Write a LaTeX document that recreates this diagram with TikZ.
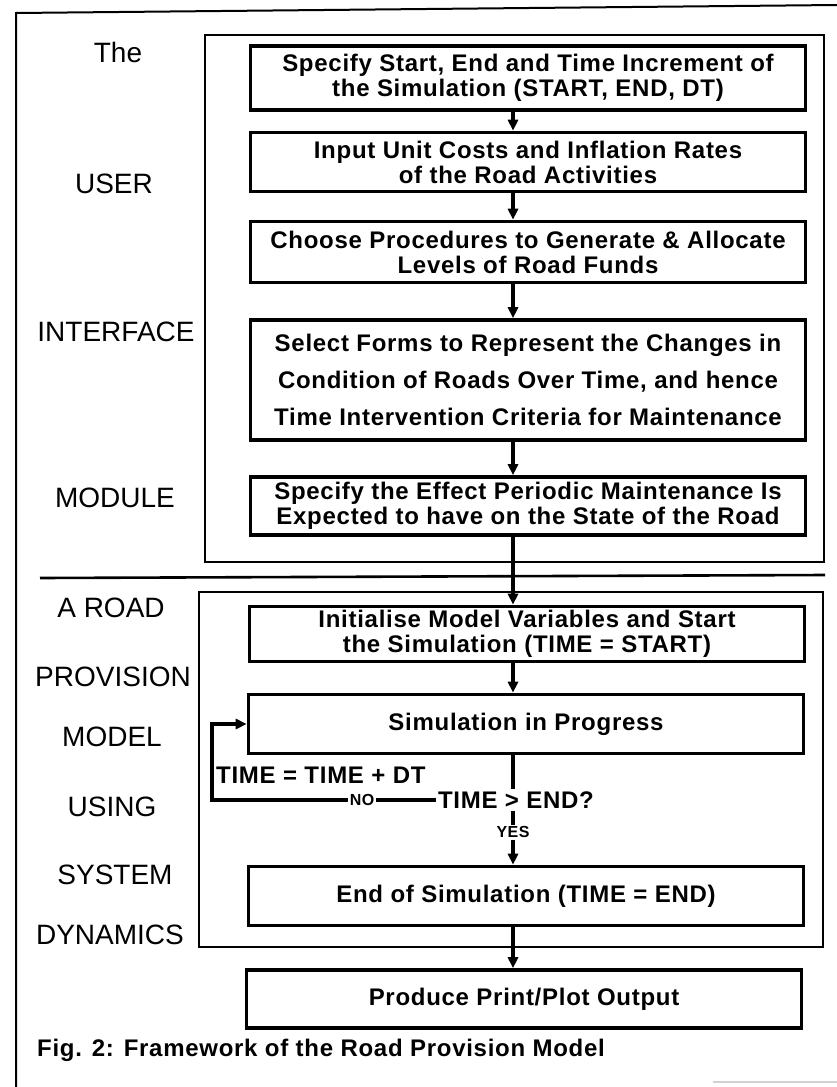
\documentclass[tikz,border=0pt]{standalone}
\usepackage{fontspec}
\setmainfont{Liberation Sans}
\newfontfamily\boxfont[LetterSpace=3]{Liberation Sans}
\usetikzlibrary{arrows.meta,positioning,calc}
\tikzset{
  panel/.style={draw,line width=2.6pt},
  stage/.style={draw,line width=3.6pt,minimum width=555pt,align=center,
    inner sep=0pt,font={\boxfont\bfseries\fontsize{24}{25}\selectfont}},
  side/.style={inner sep=0pt,font={\fontsize{28}{30}\selectfont}},
  tag/.style={fill=white,inner sep=2pt,font={\boxfont\bfseries\fontsize{16}{18}\selectfont}},
  plain/.style={inner sep=2pt,font={\boxfont\bfseries\fontsize{24}{25}\selectfont}}
}
\tikzstyle{arrow} = [line width=3.4pt,-{Triangle[length=11pt,width=10pt]}]

\begin{document}
\begin{tikzpicture}[x=1pt,y=-1pt]
  \useasboundingbox (0,0) rectangle (837,1087);
  \draw[line width=2pt] (16,1087) -- (16,13) -- (837,5);
  \draw[gray!35,line width=2pt] (713,1082) -- (837,1082);
  \draw[panel] (205,35) rectangle (824,562);
  \draw[panel] (40,578) -- (825,575);
  \draw[panel] (199,592) rectangle (823,947);
  \coordinate (spine) at (513,0);

  \node[side] (lThe) at (118,52) {The};
  \node[side] (lUser) at (114,184) {USER};
  \node[side] (lInter) at (116,332) {INTERFACE};
  \node[side] (lModule) at (115,498) {MODULE};
  \node[side] (lRoad) at (111,608) {A ROAD};
  \node[side] (lProv) at (113,677) {PROVISION};
  \node[side] (lModel) at (112,737) {MODEL};
  \node[side] (lUsing) at (112,807) {USING};
  \node[side] (lSystem) at (115,875) {SYSTEM};
  \node[side] (lDyn) at (110,935) {DYNAMICS};

  \node[stage,minimum height=64pt] (start) at (528,78)
    {Specify Start, End and Time Increment of\\the Simulation (START, END, DT)};
  \node[stage,minimum height=59pt] (costs) at (528,162)
    {Input Unit Costs and Inflation Rates\\of the Road Activities};
  \node[stage,minimum height=61pt] (funds) at (528,252)
    {Choose Procedures to Generate \& Allocate\\Levels of Road Funds};
  \node[stage,minimum height=120pt,font={\boxfont\bfseries\fontsize{24}{37}\selectfont}] (forms) at (528,380)
    {Select Forms to Represent the Changes in\\Condition of Roads Over Time, and hence\\Time Intervention Criteria for Maintenance};
  \node[stage,minimum height=58pt] (effect) at (528,506)
    {Specify the Effect Periodic Maintenance Is\\Expected to have on the State of the Road};
  \node[stage,minimum height=55pt] (init) at (527,634)
    {Initialise Model Variables and Start\\the Simulation (TIME = START)};
  \node[stage,minimum height=59pt] (sim) at (526,724) {Simulation in Progress};
  \node[plain] (dec) at (516,800) {TIME > END?};
  \node[plain,anchor=west] (incr) at (214,775) {TIME = TIME + DT};
  \node[stage,minimum height=59pt] (stop) at (526,896) {End of Simulation (TIME = END)};
  \node[stage,minimum height=58pt] (out) at (524,999) {Produce Print/Plot Output};
  \node[plain,anchor=west] (caption) at (35,1050) {Fig. 2: Framework of the Road Provision Model};

  \draw[arrow] (start.south -| spine) -- (costs.north -| spine);
  \draw[arrow] (costs.south -| spine) -- (funds.north -| spine);
  \draw[arrow] (funds.south -| spine) -- (forms.north -| spine);
  \draw[arrow] (forms.south -| spine) -- (effect.north -| spine);
  \draw[arrow] (effect.south -| spine) -- (init.north -| spine);
  \draw[arrow] (init.south -| spine) -- (sim.north -| spine);
  \draw[line width=3.4pt] (sim.south -| spine) -- (dec.north -| spine);
  \coordinate (loopc) at (212,800);
  \draw[arrow] (dec.west) -- node[tag,pos=0.33] {NO} (loopc) |- (sim.west);
  \draw[arrow] (dec.south -| spine) -- node[tag,pos=0.4] {YES} (stop.north -| spine);
  \draw[arrow] (stop.south -| spine) -- (out.north -| spine);
\end{tikzpicture}
\end{document}
